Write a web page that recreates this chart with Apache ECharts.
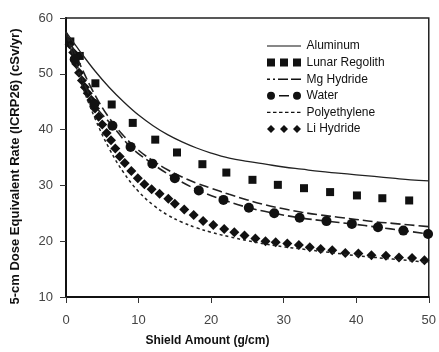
<!DOCTYPE html>
<html>
<head>
<meta charset="utf-8">
<script src="https://cdn.jsdelivr.net/npm/echarts@6/dist/echarts.min.js"></script>
<style>
html, body { margin: 0; padding: 0; background: #fff; }
#shield { width: 439px; height: 352px; }
</style>
</head>
<body>
<div id="shield"></div>
<script>
// 数据 (x: g/cm, y: cSv/yr)
var aluminum = [[0, 57.5], [2, 53.9], [4, 50.5], [6, 47.5], [8, 44.9], [10, 42.6], [12, 40.7], [14, 39.1], [16, 37.8], [18, 36.7], [20, 35.8], [22.5, 34.9], [25, 34.3], [27.5, 33.8], [30, 33.3], [32.5, 32.9], [35, 32.5], [37.5, 32.2], [40, 31.9], [42.5, 31.6], [45, 31.3], [47.5, 31.0], [50, 30.8]];
var lunarRegolith = [[0.6, 55.8], [1.9, 53.2], [4.05, 48.3], [6.3, 44.5], [9.2, 41.2], [12.3, 38.2], [15.3, 35.9], [18.8, 33.8], [22.1, 32.3], [25.7, 31.0], [29.2, 30.1], [32.8, 29.5], [36.4, 28.8], [40.1, 28.2], [43.6, 27.7], [47.3, 27.3]];
var mgHydride = [[0, 57.5], [2, 51.5], [4, 46.2], [6, 42], [8, 38.8], [10, 36.3], [12, 34.4], [14, 32.8], [16, 31.5], [18, 30.4], [20, 29.5], [22.5, 28.4], [25, 27.4], [27.5, 26.5], [30, 25.8], [32.5, 25.2], [35, 24.7], [37.5, 24.3], [40, 23.9], [42.5, 23.5], [45, 23.2], [47.5, 22.9], [50, 22.6]];
var water = [[0, 57.5], [1.2, 52.6], [3.9, 44.6], [6.4, 40.7], [8.9, 36.9], [11.9, 33.9], [15.0, 31.3], [18.3, 29.1], [21.7, 27.4], [25.2, 26.0], [28.7, 25.0], [32.2, 24.2], [35.9, 23.6], [39.4, 23.1], [43.0, 22.5], [46.5, 21.9], [49.9, 21.3]];
var polyethylene = [[0, 57.5], [2, 48.8], [4, 42], [6, 36.5], [8, 32.2], [10, 28.9], [12, 26.5], [14, 24.7], [16, 23.4], [18, 22.4], [20, 21.6], [22.5, 20.8], [25, 20.1], [27.5, 19.5], [30, 19.0], [32.5, 18.6], [35, 18.2], [37.5, 17.8], [40, 17.4], [42.5, 17.1], [45, 16.8], [47.5, 16.5], [50, 16.2]];
var liHydride = [[0.5, 55.3], [1.0, 53.8], [1.4, 51.8], [1.8, 50.2], [2.2, 48.8], [2.6, 47.6], [3.0, 46.5], [3.5, 45.3], [4.0, 43.8], [4.5, 42.3], [5.0, 40.9], [5.6, 39.4], [6.2, 38.1], [6.8, 36.6], [7.4, 35.2], [8.1, 34.0], [9.0, 32.6], [9.9, 31.3], [10.8, 30.2], [11.8, 29.3], [12.9, 28.5], [14.1, 27.6], [15.0, 26.7], [16.3, 25.7], [17.6, 24.7], [18.9, 23.6], [20.3, 22.9], [21.8, 22.2], [23.2, 21.6], [24.6, 21.0], [26.1, 20.5], [27.5, 20.0], [28.9, 19.8], [30.5, 19.6], [32.1, 19.3], [33.6, 18.9], [35.1, 18.6], [36.7, 18.4], [38.5, 17.9], [40.3, 17.8], [42.1, 17.5], [44.1, 17.4], [45.9, 17.1], [47.7, 17.0], [49.4, 16.6]];

var shieldObj = document.getElementById('shield');
var shieldChart = echarts.init(shieldObj);

var ink = '#111';
var font = '"Liberation Sans", Arial, sans-serif';
// 图例图标: 两个小角点撑开 34x8 的范围
var box = 'M0,0h0.1v0.1h-0.1Z M33.9,7.9h0.1v0.1h-0.1Z ';

// 第一个点不画圆
var waterData = water.map(function (p, i) {
    return i === 0 ? { value: p, symbol: 'none' } : p;
});

var option = {
    animation: false,
    textStyle: {
        fontFamily: font
    },
    grid: {
        left: 66,
        right: 4,
        top: 18,
        bottom: 48,
        show: true,
        borderColor: '#222',
        borderWidth: 1.5
    },
    legend: {
        orient: 'vertical',
        left: 262,
        top: 34,
        itemWidth: 35,
        itemHeight: 8,
        itemGap: 2.6,
        textStyle: {
            color: ink,
            fontSize: 12,
            lineHeight: 14
        },
        data: [
            { name: 'Aluminum', icon: 'path://' + box + 'M0,3.4h34v1.2h-34Z' },
            { name: 'Lunar Regolith', icon: 'path://M0,0h8v8h-8Z M13,0h8v8h-8Z M26,0h8v8h-8Z' },
            { name: 'Mg Hydride', icon: 'path://' + box + 'M0,3.3h3v1.4h-3Z M6,3.3h2v1.4h-2Z M11,3.3h10v1.4h-10Z M24,3.3h10v1.4h-10Z' },
            { name: 'Water', icon: 'path://M0,4a4,4 0 1,0 8,0a4,4 0 1,0 -8,0Z M26,4a4,4 0 1,0 8,0a4,4 0 1,0 -8,0Z M12,3.2h10v1.6h-10Z' },
            { name: 'Polyethylene', icon: 'path://' + box + 'M0,3.4h3.5v1.2h-3.5Z M6,3.4h3.5v1.2h-3.5Z M12,3.4h3.5v1.2h-3.5Z M18,3.4h3.5v1.2h-3.5Z M24,3.4h3.5v1.2h-3.5Z M30,3.4h3.5v1.2h-3.5Z' },
            { name: 'Li Hydride', icon: 'path://M4,0L8,4L4,8L0,4Z M17,0L21,4L17,8L13,4Z M30,0L34,4L30,8L26,4Z' }
        ]
    },
    xAxis: {
        type: 'value',
        min: 0,
        max: 50,
        interval: 10,
        name: 'Shield Amount (g/cm)',
        nameLocation: 'middle',
        nameGap: 38,
        nameTextStyle: {
            color: ink,
            fontSize: 12,
            fontWeight: 'bold',
            padding: [0, 80, 0, 0]
        },
        axisLine: {
            lineStyle: { color: '#111', width: 2 }
        },
        axisTick: {
            show: true,
            inside: false,
            length: 6,
            lineStyle: { color: '#333' }
        },
        axisLabel: {
            color: '#444',
            fontSize: 13,
            margin: 17
        },
        splitLine: { show: false }
    },
    yAxis: {
        type: 'value',
        min: 10,
        max: 60,
        interval: 10,
        name: '5-cm Dose Equivalent Rate (ICRP26) (cSv/yr)',
        nameLocation: 'middle',
        nameGap: 44,
        nameTextStyle: {
            color: ink,
            fontSize: 13,
            fontWeight: 'bold',
            padding: [0, 18, 0, 0]
        },
        axisLine: {
            lineStyle: { color: '#111', width: 2 }
        },
        axisTick: {
            show: true,
            inside: false,
            length: 6,
            lineStyle: { color: '#333' }
        },
        axisLabel: {
            color: '#444',
            fontSize: 13,
            margin: 13
        },
        splitLine: { show: false }
    },
    series: [
        {
            name: 'Aluminum',
            type: 'line',
            smooth: 0.4,
            showSymbol: false,
            symbol: 'none',
            color: ink,
            lineStyle: { color: '#222', width: 1.3, type: 'solid' },
            data: aluminum
        },
        {
            name: 'Lunar Regolith',
            type: 'scatter',
            symbol: 'rect',
            symbolSize: 8,
            color: ink,
            itemStyle: { color: ink, opacity: 1 },
            data: lunarRegolith
        },
        {
            name: 'Mg Hydride',
            type: 'line',
            smooth: 0.4,
            showSymbol: false,
            symbol: 'none',
            color: ink,
            lineStyle: { color: '#222', width: 1.6, type: [10, 4] },
            data: mgHydride
        },
        {
            name: 'Water',
            type: 'line',
            smooth: 0.4,
            symbol: 'circle',
            symbolSize: 10,
            showAllSymbol: true,
            color: ink,
            itemStyle: { color: ink, opacity: 1 },
            lineStyle: { color: '#222', width: 1.6, type: [10, 4] },
            data: waterData
        },
        {
            name: 'Polyethylene',
            type: 'line',
            smooth: 0.4,
            showSymbol: false,
            symbol: 'none',
            color: ink,
            lineStyle: { color: '#222', width: 1.5, type: [3, 3] },
            data: polyethylene
        },
        {
            name: 'Li Hydride',
            type: 'scatter',
            symbol: 'diamond',
            symbolSize: 10,
            color: ink,
            itemStyle: { color: ink, opacity: 1 },
            data: liHydride
        }
    ]
};

shieldChart.setOption(option);
</script>
</body>
</html>
